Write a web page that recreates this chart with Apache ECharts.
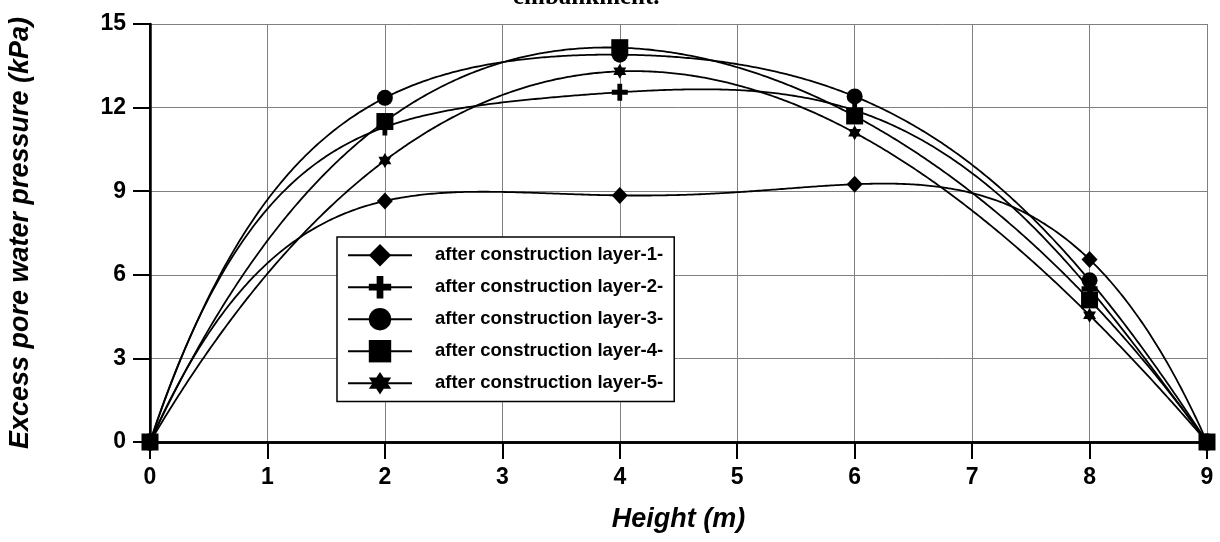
<!DOCTYPE html>
<html><head><meta charset="utf-8">
<script src="https://cdn.jsdelivr.net/npm/echarts/dist/echarts.min.js"></script>
<style>html,body{margin:0;padding:0;background:#fff}#c{width:1220px;height:542px}</style>
</head><body><div id="c"></div>
<script>
// Height positions (m)
const heights = [0, 2, 4, 6, 8, 9];
// Excess pore water pressure (kPa) after each construction layer
const layer1 = [0, 8.65, 8.85, 9.25, 6.55, 0];
const layer2 = [0, 11.3, 12.55, 11.9, 5.5, 0];
const layer3 = [0, 12.35, 13.9, 12.4, 5.8, 0];
const layer4 = [0, 11.5, 14.15, 11.7, 5.1, 0];
const layer5 = [0, 10.1, 13.3, 11.1, 4.55, 0];
const seriesNames = [
  'after construction layer-1-',
  'after construction layer-2-',
  'after construction layer-3-',
  'after construction layer-4-',
  'after construction layer-5-'
];
const titleText = 'embankment.';
const xName = 'Height (m)';
const yName = 'Excess pore water pressure (kPa)';

const PLUS = 'path://M-3,-10 L3,-10 L3,-3 L10,-3 L10,3 L3,3 L3,10 L-3,10 L-3,3 L-10,3 L-10,-3 L-3,-3 Z';
const STAR6 = 'path://M0,-10 L2.887,-5 L8.66,-5 L5.77,0 L8.66,5 L2.887,5 L0,10 L-2.887,5 L-8.66,5 L-5.77,0 L-8.66,-5 L-2.887,-5 Z';
const symbols = ['diamond', PLUS, 'circle', 'rect', STAR6];
const symbolSizes = [[16, 17], [16, 17], [16, 16], [17, 17], [13, 15]];
const layers = [layer1, layer2, layer3, layer4, layer5];

const chart = echarts.init(document.getElementById('c'), null, {renderer: 'canvas'});
const font = '"Liberation Sans", Arial, sans-serif';

// interpolating polynomial through a series' measured points (curve fit drawn by the chart)
function polyAt(xs, ys, x) {
  let s = 0;
  for (let j = 0; j < xs.length; j++) {
    let l = 1;
    for (let k = 0; k < xs.length; k++) {
      if (k !== j) l *= (x - xs[k]) / (xs[j] - xs[k]);
    }
    s += ys[j] * l;
  }
  return s;
}

const curveSeries = layers.map((vals, i) => ({
  name: 'curve-' + (i + 1),
  type: 'custom',
  data: heights.map((h, j) => [h, vals[j]]),
  encode: {x: 0, y: 1},
  z: 2,
  silent: true,
  renderItem: function (params, api) {
    if (params.dataIndex !== 0) return {type: 'group', children: []};
    const x0 = heights[0], x1 = heights[heights.length - 1];
    const pts = [];
    const n = 450;
    for (let k = 0; k <= n; k++) {
      const x = x0 + (x1 - x0) * k / n;
      pts.push(api.coord([x, polyAt(heights, vals, x)]));
    }
    return {
      type: 'polyline',
      shape: {points: pts},
      style: {stroke: '#000', lineWidth: 1.8, fill: null}
    };
  }
}));

const markerSeries = layers.map((vals, i) => ({
  name: seriesNames[i],
  type: 'line',
  data: heights.map((h, j) => [h, vals[j]]),
  symbol: symbols[i],
  symbolSize: symbolSizes[i],
  showSymbol: true,
  lineStyle: {color: '#000', width: 0, opacity: 0},
  itemStyle: {color: '#000'},
  z: 3 + i
}));

chart.setOption({
  animation: false,
  backgroundColor: '#fff',
  grid: {left: 150, right: 13, top: 24, bottom: 100, containLabel: false, outerBoundsMode: 'none'},
  graphic: [{
    type: 'text', left: 513, top: -15,
    style: {text: titleText, font: 'bold 25px "Liberation Serif", serif', fill: '#000'}
  }],
  legend: {
    orient: 'vertical', left: 337, top: 237,
    itemWidth: 64, itemHeight: 28, itemGap: 9.6,
    padding: [7, 11, 7, 10],
    borderColor: '#000', borderWidth: 1.5, backgroundColor: '#fff',
    lineStyle: {color: '#000', width: 2, opacity: 1},
    textStyle: {fontFamily: font, fontWeight: 'bold', fontSize: 18.5, color: '#000', padding: [0, 0, 0, 18]},
    data: seriesNames,
    z: 10
  },
  xAxis: [{
    type: 'value', min: 0, max: 9, interval: 1,
    name: xName, nameLocation: 'middle', nameGap: 64,
    nameTextStyle: {fontFamily: font, fontWeight: 'bold', fontStyle: 'italic', fontSize: 27, color: '#000'},
    axisLine: {onZero: false, lineStyle: {color: '#000', width: 2.5}},
    axisTick: {length: 17, lineStyle: {color: '#000', width: 2}},
    axisLabel: {fontFamily: font, fontWeight: 'bold', fontSize: 23, color: '#000', margin: 24},
    splitLine: {lineStyle: {color: '#808080', width: 1}}
  }, {
    type: 'value', min: 0, max: 9, interval: 1, position: 'top',
    axisLine: {lineStyle: {color: '#000', width: 2.5}},
    axisTick: {show: false}, axisLabel: {show: false}, splitLine: {show: false}
  }],
  yAxis: [{
    type: 'value', min: 0, max: 15, interval: 3,
    name: yName, nameLocation: 'middle', nameGap: 116,
    nameTextStyle: {fontFamily: font, fontWeight: 'bold', fontStyle: 'italic', fontSize: 27, color: '#000'},
    axisLine: {onZero: false, lineStyle: {color: '#000', width: 2}},
    axisTick: {length: 17, lineStyle: {color: '#000', width: 2}},
    axisLabel: {fontFamily: font, fontWeight: 'bold', fontSize: 23, color: '#000', margin: 24},
    splitLine: {lineStyle: {color: '#808080', width: 1}}
  }, {
    type: 'value', min: 0, max: 15, interval: 3, position: 'right',
    axisLine: {show: true, lineStyle: {color: '#000', width: 2.5}},
    axisTick: {show: false}, axisLabel: {show: false}, splitLine: {show: false}
  }],
  series: curveSeries.concat(markerSeries)
});
</script>
</body></html>
